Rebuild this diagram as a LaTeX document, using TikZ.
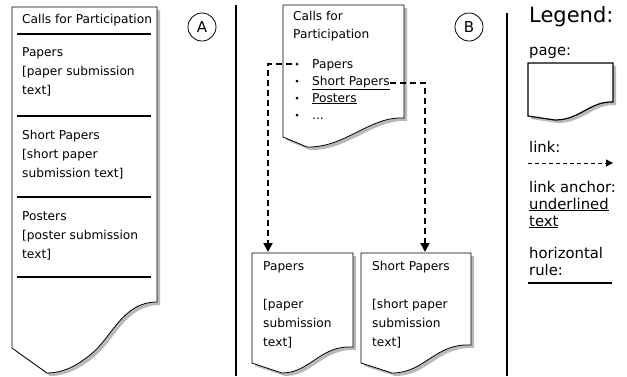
\documentclass[tikz,border=0pt]{standalone}
\usepackage{fontspec}
\setmainfont{DejaVu Sans}
\usetikzlibrary{arrows.meta}

\tikzset{
	txt/.style={anchor=base west, inner sep=0pt, font=\fontsize{12.2}{14}\selectfont},
	lgd/.style={anchor=base west, inner sep=0pt, font=\fontsize{14.8}{16}\selectfont},
	pgshadow/.style={fill=gray!55, draw=none},
	pg/.style={draw=black, fill=white, line width=0.8pt},
	hrule/.style={line width=1.5pt},
	divider/.style={line width=1.5pt},
	link/.style={line width=1.8pt, dash pattern=on 6pt off 4pt, -{Triangle[length=9pt,width=9pt]}},
	tag/.style={circle, draw, line width=0.8pt, minimum size=28pt, inner sep=0pt, font=\fontsize{15}{15}\selectfont},
	dot/.style={circle, fill=black, inner sep=0pt, minimum size=3pt},
}

\begin{document}
\begin{tikzpicture}[x=1pt, y=-1pt]
	\useasboundingbox (0,0) rectangle (627,376);
	
	% A: one long page
	\fill [pgshadow, shift={(3,3)}] (12,7) -- (157,7) -- (157,302) .. controls (122,302) and (112,338) .. (90,355) .. controls (75,367) and (62,373) .. (47,373) -- (12,348) -- cycle;
	\draw [pg] (12,7) -- (157,7) -- (157,302) .. controls (122,302) and (112,338) .. (90,355) .. controls (75,367) and (62,373) .. (47,373) -- (12,348) -- cycle;
	
	\node [txt] (a0) at (22,23) {Calls for Participation};
	\draw [hrule] (17,34) -- (151,34);
	\node [txt] (a1) at (22,56) {Papers};
	\node [txt] (a2) at (22,75) {[paper submission};
	\node [txt] (a3) at (22,94) {text]};
	\draw [hrule] (17,116) -- (151,116);
	\node [txt] (a4) at (22,139) {Short Papers};
	\node [txt] (a5) at (22,158) {[short paper};
	\node [txt] (a6) at (22,177) {submission text]};
	\draw [hrule] (17,197) -- (151,197);
	\node [txt] (a7) at (22,220) {Posters};
	\node [txt] (a8) at (22,239) {[poster submission};
	\node [txt] (a9) at (22,258) {text]};
	\draw [hrule] (17,277) -- (151,277);
	
	\node [tag] (tagA) at (202,27) {A};
	
	\draw [divider] (236,5) -- (236,376);
	\draw [divider] (507,13) -- (507,376);
	
	% B: index page and linked pages
	\fill [pgshadow, shift={(3,3)}] (283,5) -- (404,5) -- (404,118) .. controls (370,116) and (345,148) .. (307,147) -- (283,137) -- cycle;
	\draw [pg] (283,5) -- (404,5) -- (404,118) .. controls (370,116) and (345,148) .. (307,147) -- (283,137) -- cycle;
	
	\node [txt] (b0) at (293,20) {Calls for};
	\node [txt] (b1) at (293,38) {Participation};
	\node [dot] (u1) at (297,64) {};
	\node [dot] (u2) at (297,81) {};
	\node [dot] (u3) at (297,98) {};
	\node [dot] (u4) at (297,115) {};
	\node [txt] (l1) at (312,68) {Papers};
	\node [txt] (l2) at (312,85) {\underline{Short Papers}};
	\node [txt] (l3) at (312,102) {\underline{Posters}};
	\node [txt] (l4) at (312,119) {...};
	
	\fill [pgshadow, shift={(3,3)}] (252,253) -- (353,253) -- (353,347) .. controls (320,345) and (310,373) .. (282,373) -- (252,363) -- cycle;
	\draw [pg] (252,253) -- (353,253) -- (353,347) .. controls (320,345) and (310,373) .. (282,373) -- (252,363) -- cycle;
	\node [txt] (p1) at (263,270) {Papers};
	\node [txt] (p2) at (263,308) {[paper};
	\node [txt] (p3) at (263,327) {submission};
	\node [txt] (p4) at (263,346) {text]};
	
	\fill [pgshadow, shift={(3,3)}] (361,253) -- (471,253) -- (471,345) .. controls (435,343) and (425,373) .. (392,373) -- (361,363) -- cycle;
	\draw [pg] (361,253) -- (471,253) -- (471,345) .. controls (435,343) and (425,373) .. (392,373) -- (361,363) -- cycle;
	\node [txt] (s1) at (372,270) {Short Papers};
	\node [txt] (s2) at (372,308) {[short paper};
	\node [txt] (s3) at (372,327) {submission};
	\node [txt] (s4) at (372,346) {text]};
	
	\coordinate (pin) at (268,252);
	\coordinate (sin) at (425,252);
	\draw [link] ([xshift=-3pt]u1.west) -| (pin);
	\draw [link] (l2.east) -| (sin);
	
	\node [tag] (tagB) at (469,27) {B};
	
	% legend
	\node [anchor=base west, inner sep=0pt, font=\fontsize{21}{22}\selectfont] (lg) at (529,22) {Legend:};
	\node [lgd] (lg1) at (529,55) {page:};
	\fill [pgshadow, shift={(3,3)}] (528,63) -- (613,63) -- (613,102) .. controls (590,101) and (580,120) .. (555,120) -- (528,116) -- cycle;
	\draw [pg, line width=1.2pt] (528,63) -- (613,63) -- (613,102) .. controls (590,101) and (580,120) .. (555,120) -- (528,116) -- cycle;
	\node [lgd] (lg2) at (529,152) {link:};
	\coordinate (lk1) at (528,163);
	\coordinate (lk2) at (613,163);
	\draw [line width=1pt, dash pattern=on 4pt off 3pt, -{Triangle[length=7pt,width=7pt]}] (lk1) -- (lk2);
	\node [lgd] (lg3) at (529,192) {link anchor:};
	\node [lgd] (lg4) at (529,209) {\underline{underlined}};
	\node [lgd] (lg5) at (529,226) {\underline{text}};
	\node [lgd] (lg6) at (529,258) {horizontal};
	\node [lgd] (lg7) at (529,275) {rule:};
	\draw [hrule] (528,283) -- (612,283);
	
\end{tikzpicture}
\end{document}
